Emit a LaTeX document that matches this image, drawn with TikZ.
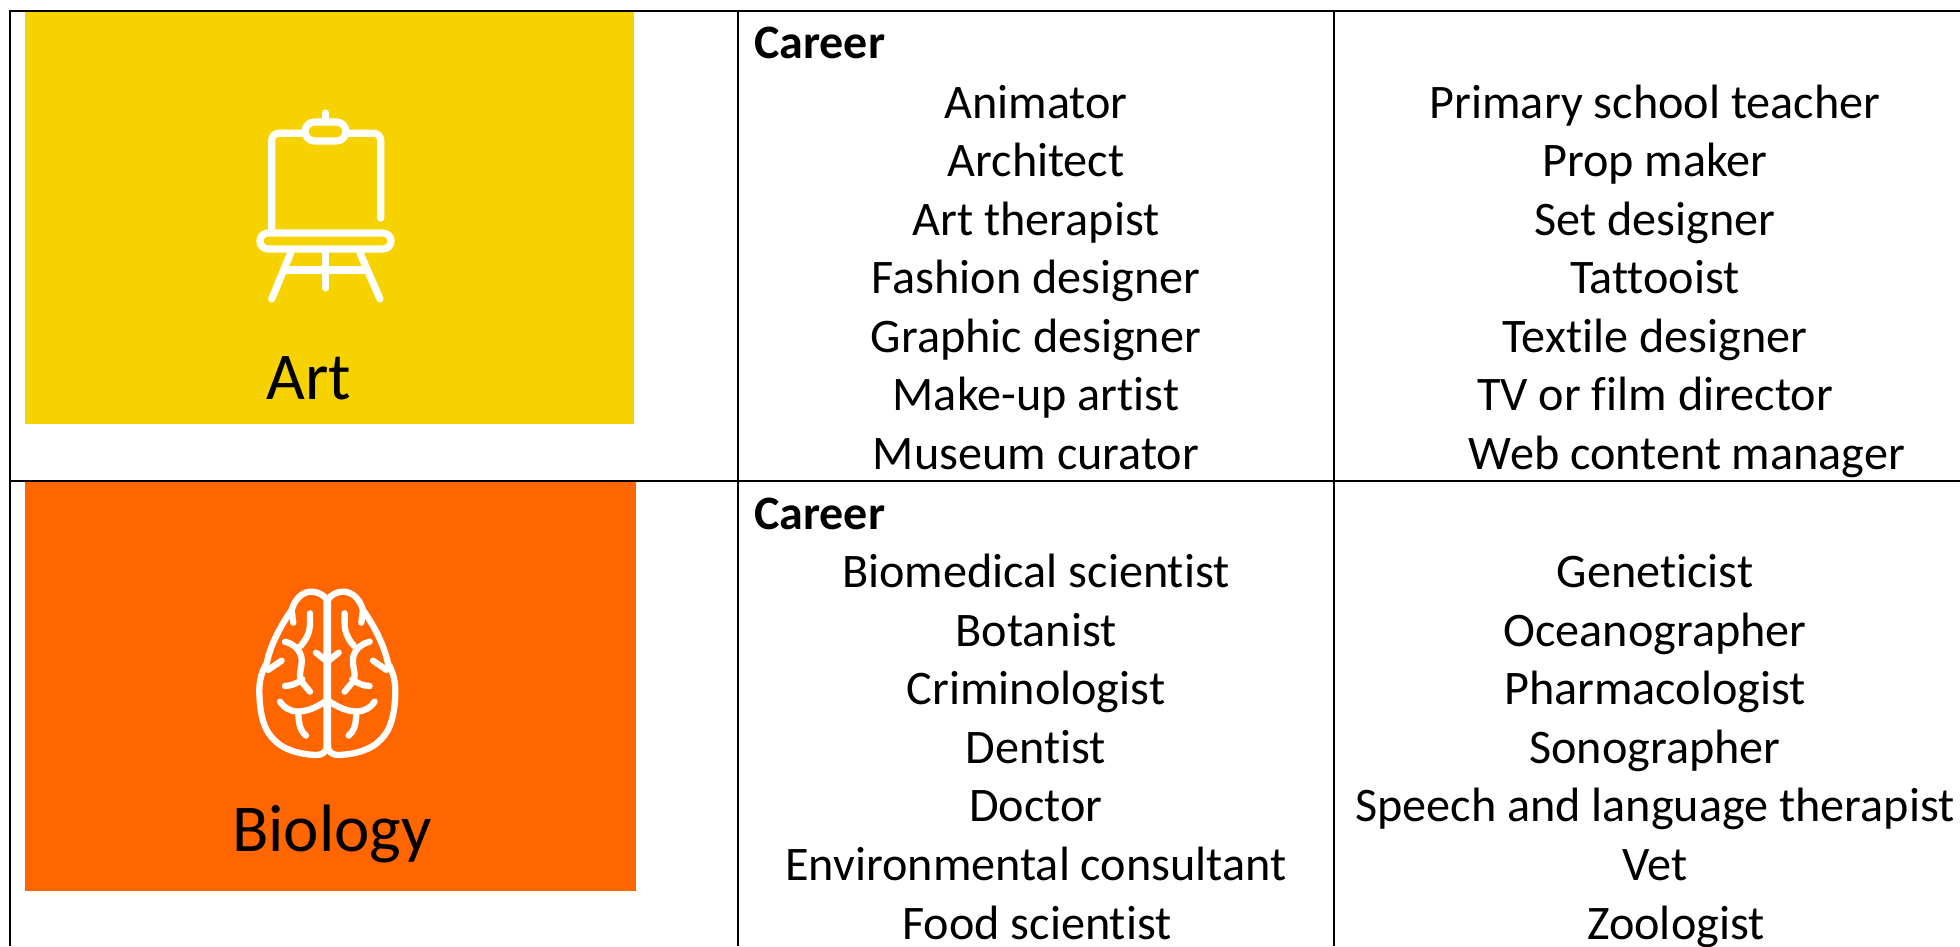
\documentclass[tikz,border=0pt]{standalone}
\usepackage{fontspec}
\setmainfont[RawFeature={-liga;-clig;-dlig}]{Carlito}
\definecolor{artyellow}{HTML}{F6D200}
\definecolor{bioorange}{HTML}{FF6600}
\tikzset{
  x=1pt,y=-1pt,
  rule/.style={line width=2.6pt,black},
  career/.style={anchor=base,inner sep=0pt,font=\fontsize{48.2}{58}\selectfont},
  head/.style={anchor=base west,inner sep=0pt,font=\fontsize{48}{58}\selectfont\bfseries},
  subject/.style={anchor=base,inner sep=0pt,font=\fontsize{67}{78}\selectfont},
  icon/.style={white,line width=7.2pt,line cap=round,line join=round},
  iconb/.style={white,line width=6.3pt,line cap=round,line join=round},
}
\newcommand{\brainhalf}{%
  \draw[iconb] (-2,120) .. controls (-8,105) and (-30,95) .. (-47,95)
    .. controls (-70,95) and (-95,110) .. (-107,150)
    .. controls (-135,190) and (-170,250) .. (-182,310)
    .. controls (-195,330) and (-204,360) .. (-204,390)
    .. controls (-204,440) and (-197,480) .. (-182,510)
    .. controls (-165,540) and (-140,560) .. (-112,570)
    .. controls (-90,580) and (-50,585) .. (-32,585)
    .. controls (-15,585) and (-2,575) .. (-2,560) -- cycle;
  \draw[iconb] (-107,150) -- (-102,188);
  \draw[iconb] (-52,160) -- (-52,190) .. controls (-52,220) and (-65,240) .. (-80,258);
  \draw[iconb] (-127,245) .. controls (-105,250) and (-85,265) .. (-78,290)
    .. controls (-72,320) and (-90,340) .. (-77,365) -- (-52,395);
  \draw[iconb] (-75,358) .. controls (-90,370) and (-110,378) .. (-127,378);
  \draw[iconb] (-137,302) -- (-178,330);
  \draw[iconb] (-34,278) -- (0,305) -- (0,420);
  \draw[iconb] (-142,425) .. controls (-120,460) and (-70,470) .. (0,420);
  \draw[iconb] (-87,465) .. controls (-85,495) and (-80,515) .. (-64,527);
}
\begin{document}
\begin{tikzpicture}
\useasboundingbox (0,0) rectangle (1960,946);
\fill[white] (0,0) rectangle (1960,946);
\fill[artyellow] (25,12) rectangle (634,424);
\fill[bioorange] (25,482) rectangle (636,891);
% grid
\draw[rule] (10,946) -- (10,11) -- (1960,11);
\draw[rule] (10,481) -- (1960,481);
\draw[rule] (738,11) -- (738,946);
\draw[rule] (1334,11) -- (1334,946);
% easel
\draw[icon,rounded corners=7pt] (271.7,230) -- (271.7,133.3) -- (305,133.3);
\draw[icon,rounded corners=7pt] (346,133.3) -- (380.7,133.3) -- (380.7,218);
\draw[icon,rounded corners=9.5pt] (305,122) rectangle (346,141);
\draw[icon] (325.7,122) -- (325.7,113);
\draw[icon,rounded corners=8pt] (260,233) rectangle (391,249);
\draw[icon] (290.7,253) -- (271.7,299);
\draw[icon] (360,253) -- (380,299);
\draw[icon] (325.7,253) -- (325.7,288);
\draw[icon] (285,270) -- (367,270);
% brain
\begin{scope}[shift={(327.3,560)},x=.3333pt,y=-.3333pt]
\brainhalf
\end{scope}
\begin{scope}[shift={(327.3,560)},x=-.3333pt,y=-.3333pt]
\brainhalf
\end{scope}
% subject labels
\node[subject] (art) at (309,399) {Art};
\node[subject] (biology) at (332,851) {Biology};
% first row
\node[head] (h1) at (754,58.5) {Career};
\node[career] (a1) at (1036,118) {Animator};
\node[career] (a2) at (1036,176.5) {Architect};
\node[career] (a3) at (1036,235) {Art therapist};
\node[career] (a4) at (1036,293.5) {Fashion designer};
\node[career] (a5) at (1036,352) {Graphic designer};
\node[career] (a6) at (1036,410.5) {Make-up artist};
\node[career] (a7) at (1036,469) {Museum curator};
\node[career] (b1) at (1655,118) {Primary school teacher};
\node[career] (b2) at (1655,176.5) {Prop maker};
\node[career] (b3) at (1655,235) {Set designer};
\node[career] (b4) at (1655,293.5) {Tattooist};
\node[career] (b5) at (1655,352) {Textile designer};
\node[career] (b6) at (1655,410.5) {TV or film director};
\node[career] (b7) at (1687,469) {Web content manager};
% second row
\node[head] (h2) at (754,529) {Career};
\node[career] (c1) at (1036,587.5) {Biomedical scientist};
\node[career] (c2) at (1036,646.1) {Botanist};
\node[career] (c3) at (1036,704.7) {Criminologist};
\node[career] (c4) at (1036,763.3) {Dentist};
\node[career] (c5) at (1036,821.9) {Doctor};
\node[career] (c6) at (1036,880.5) {Environmental consultant};
\node[career] (c7) at (1037,939) {Food scientist};
\node[career] (d1) at (1655,587.5) {Geneticist};
\node[career] (d2) at (1655,646.1) {Oceanographer};
\node[career] (d3) at (1655,704.7) {Pharmacologist};
\node[career] (d4) at (1655,763.3) {Sonographer};
\node[career] (d5) at (1655,821.9) {Speech and language therapist};
\node[career] (d6) at (1655,880.5) {Vet};
\node[career] (d7) at (1676,939) {Zoologist};
\end{tikzpicture}
\end{document}
